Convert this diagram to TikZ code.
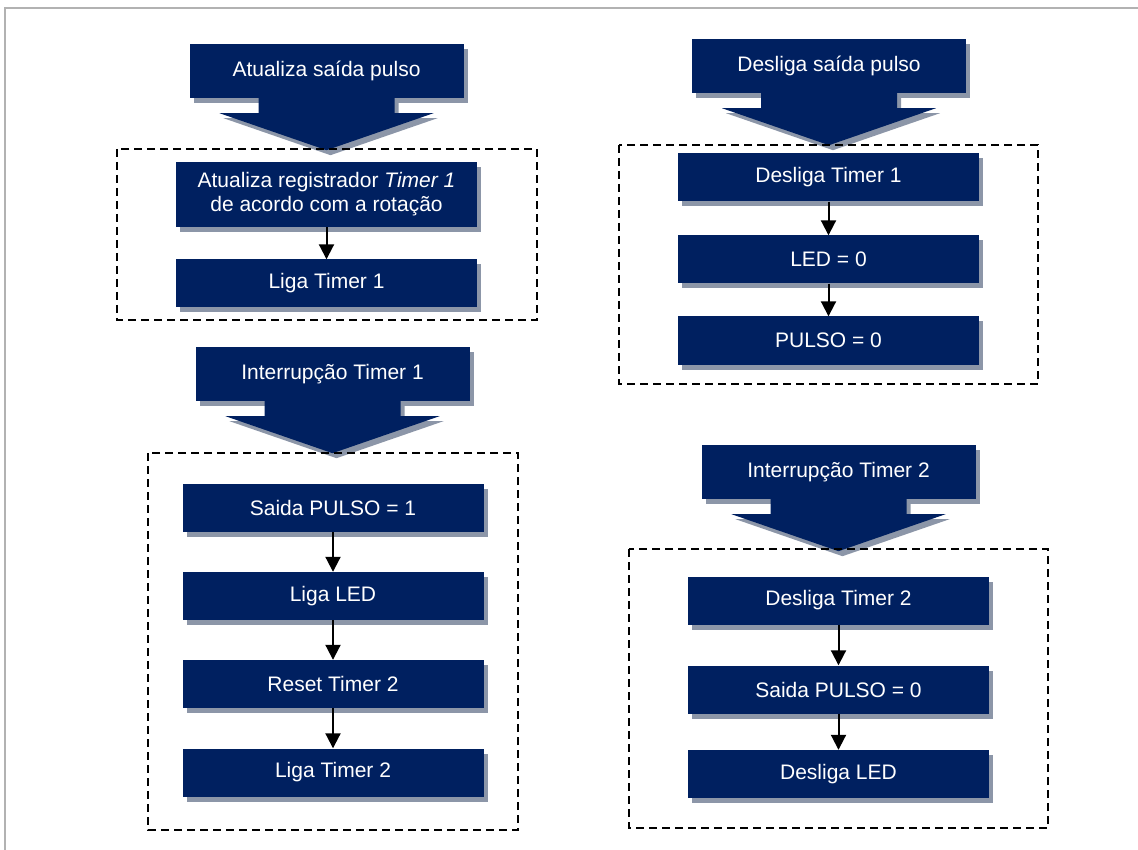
\documentclass[tikz,border=0pt]{standalone}
\usepackage{fontspec}
\setmainfont{Liberation Sans}
\usetikzlibrary{arrows.meta,shadows}

\definecolor{azulescuro}{RGB}{0,32,96}
\definecolor{sombra}{RGB}{140,150,168}

\tikzset{
    sombreado/.style={drop shadow={shadow xshift=4pt, shadow yshift=-5pt, fill=sombra, opacity=1}},
    passo/.style={fill=azulescuro, text=white, sombreado, minimum width=301pt,
        minimum height=48pt, inner sep=0pt, align=center,
        font=\fontsize{21}{24}\selectfont},
    cabeca/.style={passo, minimum width=274pt, minimum height=54pt},
    grupo/.style={draw, line width=1.6pt, dash pattern=on 8pt off 5pt},
    seta/.style={-{Triangle[length=15pt,width=15pt]}, line width=2pt},
}

% seta grande abaixo do titulo
\newcommand{\setagrande}[1]{%
    \fill[azulescuro, sombreado] ([xshift=-68pt]#1.south) -- ++(0,15) -- ++(-39,0)
        -- ++(107,37) -- ++(107,-37) -- ++(-39,0) -- ++(0,-15) -- cycle;
}

\begin{document}
\begin{tikzpicture}[x=1pt, y=-1pt]
    \useasboundingbox (0,0) rectangle (1138,850);
    % moldura cinza
    \draw[gray!60, line width=2pt] (5,850) -- (5,8) -- (1138,8);

    % Atualiza saida pulso
    \node[cabeca] (atualiza) at (326.5,71) {Atualiza saída pulso};
    \setagrande{atualiza}
    \draw[grupo] (117,149) rectangle (537,320);
    \node[passo, minimum height=65pt] (registrador) at (326.5,194.5)
        {Atualiza registrador \textit{Timer 1}\\de acordo com a rotação};
    \node[passo] (ligaT1) at (326.5,283.5) {Liga Timer 1};
    \draw[seta] (registrador) -- (ligaT1);

    % Interrupcao Timer 1
    \node[cabeca] (intT1) at (332.5,374) {Interrupção Timer 1};
    \setagrande{intT1}
    \draw[grupo] (148,453) rectangle (518,830);
    \node[passo] (pulso1) at (333,508) {Saida PULSO = 1};
    \node[passo] (ligaLED) at (333,596) {Liga LED};
    \node[passo] (resetT2) at (333,684) {Reset Timer 2};
    \node[passo] (ligaT2) at (333,772.5) {Liga Timer 2};
    \draw[seta] (pulso1) -- (ligaLED);
    \draw[seta] (ligaLED) -- (resetT2);
    \draw[seta] (resetT2) -- (ligaT2);

    % Desliga saida pulso
    \node[cabeca] (desliga) at (829,66) {Desliga saída pulso};
    \setagrande{desliga}
    \draw[grupo] (619,145) rectangle (1038,384);
    \node[passo] (deslT1) at (828.5,177.5) {Desliga Timer 1};
    \node[passo] (led0) at (828.5,259.5) {LED = 0};
    \node[passo] (pulso0) at (828.5,340.5) {PULSO = 0};
    \draw[seta] (deslT1) -- (led0);
    \draw[seta] (led0) -- (pulso0);

    % Interrupcao Timer 2
    \node[cabeca] (intT2) at (838.5,472) {Interrupção Timer 2};
    \setagrande{intT2}
    \draw[grupo] (629,549) rectangle (1048,828);
    \node[passo] (deslT2) at (838.5,600.5) {Desliga Timer 2};
    \node[passo] (saida0) at (838.5,689.5) {Saida PULSO = 0};
    \node[passo] (deslLED) at (838.5,774) {Desliga LED};
    \draw[seta] (deslT2) -- (saida0);
    \draw[seta] (saida0) -- (deslLED);
\end{tikzpicture}
\end{document}
